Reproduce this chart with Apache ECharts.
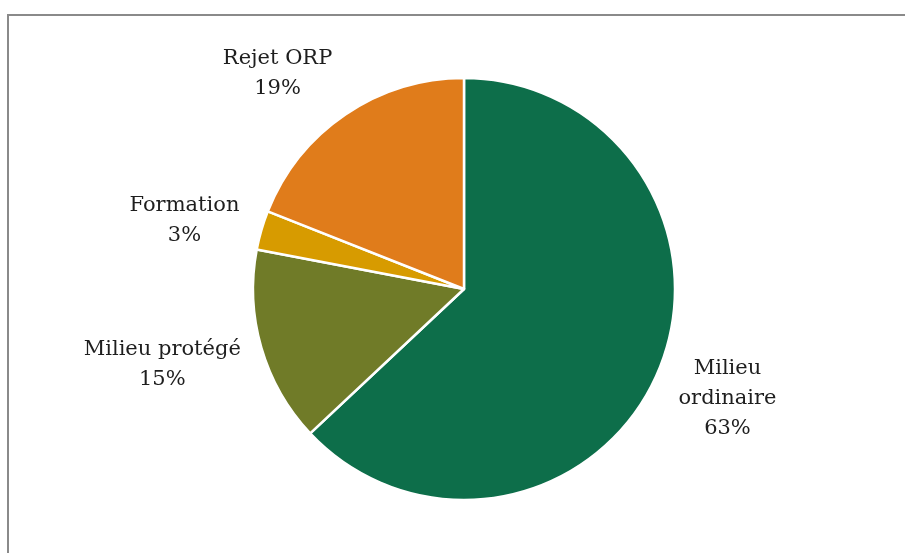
<!DOCTYPE html>
<html>
<head>
<meta charset="utf-8">
<script src="https://cdn.jsdelivr.net/npm/echarts@6/dist/echarts.min.js"></script>
<style>
html,body{margin:0;padding:0;background:#fff;}
#chart{width:905px;height:553px;}
</style>
</head>
<body>
<div id="chart"></div>
<script>
const categories = ['Milieu ordinaire', 'Milieu protégé', 'Formation', 'Rejet ORP'];
const values = [63, 15, 3, 19];
const colors = ['#0d6e4a', '#707b28', '#d79b00', '#e07c1b'];
const labelText = ['Milieu\nordinaire\n63%', 'Milieu protégé\n15%', 'Formation\n3%', 'Rejet ORP\n19%'];
const labelDist = [75, 98, 78, 78];
const labelNudge = [[1, -4], [-5, -11], [-2, 12], [-24, 24]];

const chart = echarts.init(document.getElementById('chart'), null, {renderer: 'canvas'});
chart.setOption({
  animation: false,
  backgroundColor: '#ffffff',
  graphic: [
    {type: 'line', shape: {x1: 8, y1: 15, x2: 905, y2: 15}, style: {stroke: '#8a8a8a', lineWidth: 2}},
    {type: 'line', shape: {x1: 8, y1: 14, x2: 8, y2: 553}, style: {stroke: '#8a8a8a', lineWidth: 2}}
  ],
  series: [{
    type: 'pie',
    center: [464, 289],
    radius: [0, 211],
    startAngle: 90,
    clockwise: true,
    avoidLabelOverlap: false,
    itemStyle: {borderColor: '#ffffff', borderWidth: 2.5},
    label: {
      show: true,
      position: 'outside',
      fontFamily: 'DejaVu Serif',
      fontSize: 21,
      lineHeight: 30,
      color: '#1e1e1e',
      distanceToLabelLine: 0
    },
    labelLine: {show: false, length2: 0},
    labelLayout: function (p) {
      const n = labelNudge[p.dataIndex];
      return {align: 'center', verticalAlign: 'middle', dx: n[0], dy: n[1]};
    },
    data: categories.map((c, i) => ({
      name: c,
      value: values[i],
      itemStyle: {color: colors[i]},
      label: {formatter: labelText[i]},
      labelLine: {show: false, length: labelDist[i], length2: 0}
    }))
  }]
});
</script>
</body>
</html>
